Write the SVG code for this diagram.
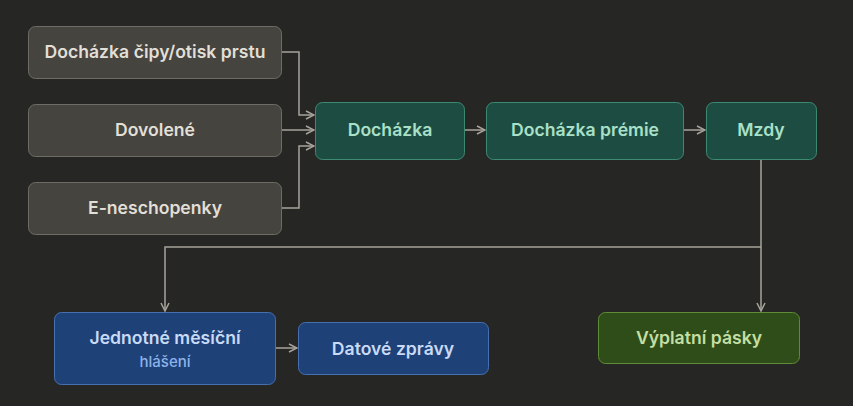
<svg xmlns="http://www.w3.org/2000/svg" width="853" height="406" viewBox="0 0 853 406">
<defs>
<marker id="arr" viewBox="0 0 10 10" refX="9" refY="5" markerWidth="10" markerHeight="10" markerUnits="userSpaceOnUse" orient="auto">
<path d="M1,1 L9,5 L1,9" fill="none" stroke="#a8a49c" stroke-width="1.5"/>
</marker>
<style>
text{font-family:Inter,"Noto Sans",sans-serif;font-weight:600;text-anchor:middle}
.g rect{fill:#45443f;stroke:#6e6c64;stroke-width:1}
.g text{fill:#e2dfd6;font-size:17.6px}
.t rect{fill:#1d4d42;stroke:#3d8a72;stroke-width:1}
.t text{fill:#a9e0c8;font-size:17.6px}
.b rect{fill:#1e4178;stroke:#4670b0;stroke-width:1}
.b text{fill:#c8daf5;font-size:17.6px}
.b text.s{fill:#8db2ea;font-size:15px;font-weight:500}
.o rect{fill:#2f4d18;stroke:#5f8c38;stroke-width:1}
.o text{fill:#c3dfa3;font-size:17.6px}
.c path{fill:none;stroke:#a8a49c;stroke-width:1.5;marker-end:url(#arr)}
</style>
</defs>
<rect width="853" height="406" fill="#262624"/>
<g class="c" id="connectors">
<path d="M282,52 H299 V115 H314"/>
<path d="M282,130 H314"/>
<path d="M282,208 H299 V146 H314"/>
<path d="M465,130 H485"/>
<path d="M683,130 H705"/>
<path d="M761,160 V311"/>
<path d="M761,247 H165 V311"/>
<path d="M275,348 H297"/>
</g>
<g class="g" id="n-cipy"><rect x="28.5" y="26.5" width="253" height="52" rx="7"/><text x="155" y="58">Docházka čipy/otisk prstu</text></g>
<g class="g" id="n-dovolene"><rect x="28.5" y="104.5" width="253" height="52" rx="7"/><text x="155" y="136">Dovolené</text></g>
<g class="g" id="n-eneschopenky"><rect x="28.5" y="182.5" width="253" height="52" rx="7"/><text x="155" y="214">E-neschopenky</text></g>
<g class="t" id="n-dochazka"><rect x="315.5" y="102.5" width="149" height="57" rx="7"/><text x="390" y="136">Docházka</text></g>
<g class="t" id="n-premie"><rect x="486.5" y="102.5" width="197" height="57" rx="7"/><text x="585" y="136">Docházka prémie</text></g>
<g class="t" id="n-mzdy"><rect x="706.5" y="102.5" width="110" height="57" rx="7"/><text x="761" y="136">Mzdy</text></g>
<g class="b" id="n-jmh"><rect x="54.5" y="312.5" width="221" height="72" rx="7"/><text x="165" y="344">Jednotné měsíční</text><text class="s" x="165" y="367">hlášení</text></g>
<g class="b" id="n-datove"><rect x="298.5" y="322.5" width="190" height="52" rx="7"/><text x="393" y="355">Datové zprávy</text></g>
<g class="o" id="n-vyplatni"><rect x="598.5" y="312.5" width="201" height="51" rx="7"/><text x="699" y="344">Výplatní pásky</text></g>
</svg>
